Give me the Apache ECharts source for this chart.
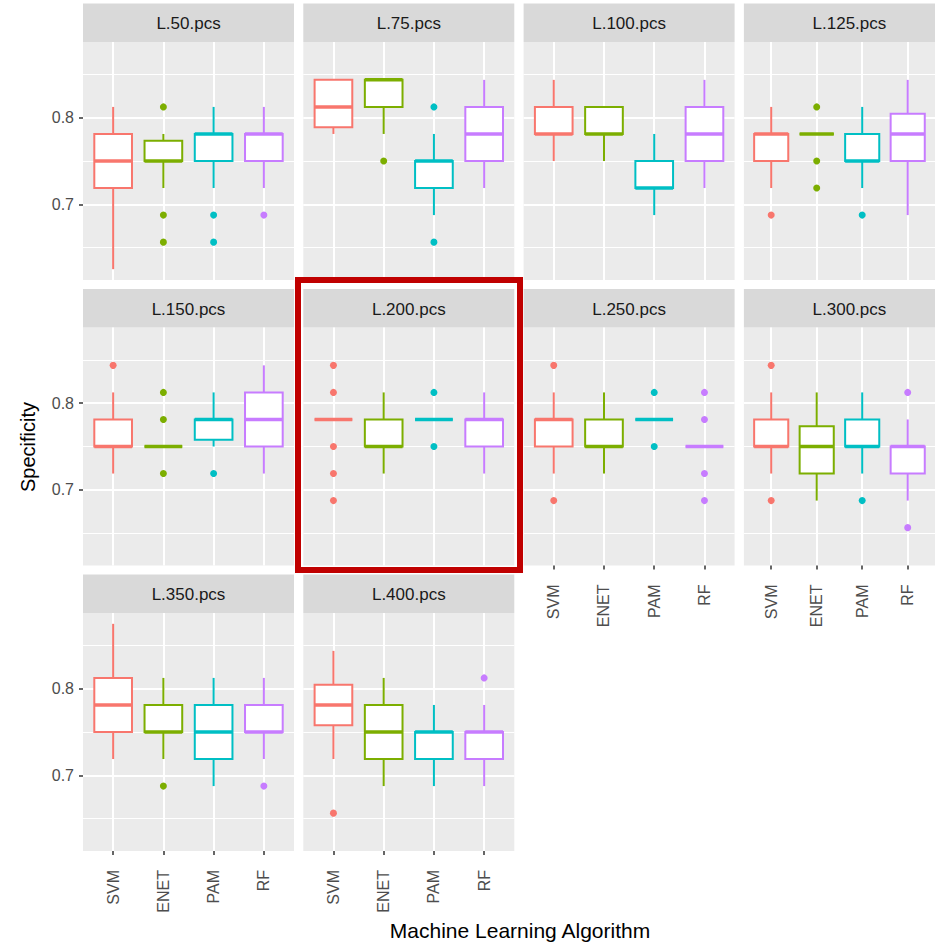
<!DOCTYPE html>
<html>
<head>
<meta charset="utf-8">
<title>Specificity by algorithm</title>
<script src="https://cdn.jsdelivr.net/npm/echarts@6/dist/echarts.min.js"></script>
<style>
  html, body { margin: 0; padding: 0; background: #fff; }
  #chart { width: 935px; height: 947px; }
</style>
</head>
<body>
<div id="chart"></div>
<script>
const algos = ["SVM", "ENET", "PAM", "RF"];
const panelNames = ["L.50.pcs", "L.75.pcs", "L.100.pcs", "L.125.pcs", "L.150.pcs",
  "L.200.pcs", "L.250.pcs", "L.300.pcs", "L.350.pcs", "L.400.pcs"];
const yMajor = [0.7, 0.8];
const yMinor = [0.65, 0.75, 0.85];
const xTicks = [1, 2, 3, 4];

// each row: [lower whisker, Q1, median, Q3, upper whisker] for SVM, ENET, PAM, RF
const box50 = [[0.625, 0.71875, 0.75, 0.78125, 0.8125], [0.71875, 0.75, 0.75, 0.7734, 0.78125],
  [0.71875, 0.75, 0.78125, 0.78125, 0.8125], [0.71875, 0.75, 0.78125, 0.78125, 0.8125]];
const box75 = [[0.78125, 0.7891, 0.8125, 0.84375, 0.84375], [0.78125, 0.8125, 0.84375, 0.84375, 0.84375],
  [0.6875, 0.71875, 0.75, 0.75, 0.78125], [0.71875, 0.75, 0.78125, 0.8125, 0.84375]];
const box100 = [[0.75, 0.78125, 0.78125, 0.8125, 0.84375], [0.75, 0.78125, 0.78125, 0.8125, 0.8125],
  [0.6875, 0.71875, 0.71875, 0.75, 0.78125], [0.71875, 0.75, 0.78125, 0.8125, 0.84375]];
const box125 = [[0.71875, 0.75, 0.78125, 0.78125, 0.8125], [0.78125, 0.78125, 0.78125, 0.78125, 0.78125],
  [0.71875, 0.75, 0.75, 0.78125, 0.8125], [0.6875, 0.75, 0.78125, 0.8047, 0.84375]];
const box150 = [[0.71875, 0.75, 0.75, 0.78125, 0.8125], [0.75, 0.75, 0.75, 0.75, 0.75],
  [0.75, 0.7578, 0.78125, 0.78125, 0.8125], [0.71875, 0.75, 0.78125, 0.8125, 0.84375]];
const box200 = [[0.78125, 0.78125, 0.78125, 0.78125, 0.78125], [0.71875, 0.75, 0.75, 0.78125, 0.8125],
  [0.78125, 0.78125, 0.78125, 0.78125, 0.78125], [0.71875, 0.75, 0.78125, 0.78125, 0.8125]];
const box250 = [[0.71875, 0.75, 0.78125, 0.78125, 0.8125], [0.71875, 0.75, 0.75, 0.78125, 0.8125],
  [0.78125, 0.78125, 0.78125, 0.78125, 0.78125], [0.75, 0.75, 0.75, 0.75, 0.75]];
const box300 = [[0.71875, 0.75, 0.75, 0.78125, 0.8125], [0.6875, 0.71875, 0.75, 0.7734, 0.8125],
  [0.71875, 0.75, 0.75, 0.78125, 0.8125], [0.6875, 0.71875, 0.75, 0.75, 0.78125]];
const box350 = [[0.71875, 0.75, 0.78125, 0.8125, 0.875], [0.71875, 0.75, 0.75, 0.78125, 0.8125],
  [0.6875, 0.71875, 0.75, 0.78125, 0.8125], [0.71875, 0.75, 0.75, 0.78125, 0.8125]];
const box400 = [[0.71875, 0.7578, 0.78125, 0.8047, 0.84375], [0.6875, 0.71875, 0.75, 0.78125, 0.8125],
  [0.6875, 0.71875, 0.75, 0.75, 0.78125], [0.6875, 0.71875, 0.75, 0.75, 0.78125]];

// outliers: [algorithm number (1..4), specificity]
const out50 = [[2, 0.8125], [2, 0.6875], [2, 0.65625], [3, 0.6875], [3, 0.65625], [4, 0.6875]];
const out75 = [[2, 0.75], [3, 0.8125], [3, 0.65625]];
const out100 = [];
const out125 = [[1, 0.6875], [2, 0.8125], [2, 0.75], [2, 0.71875], [3, 0.6875]];
const out150 = [[1, 0.84375], [2, 0.8125], [2, 0.78125], [2, 0.71875], [3, 0.71875]];
const out200 = [[1, 0.84375], [1, 0.8125], [1, 0.75], [1, 0.71875], [1, 0.6875], [3, 0.8125], [3, 0.75]];
const out250 = [[1, 0.84375], [1, 0.6875], [3, 0.8125], [3, 0.75],
  [4, 0.8125], [4, 0.78125], [4, 0.71875], [4, 0.6875]];
const out300 = [[1, 0.84375], [1, 0.6875], [3, 0.6875], [4, 0.8125], [4, 0.65625]];
const out350 = [[2, 0.6875], [4, 0.6875]];
const out400 = [[1, 0.65625], [4, 0.8125]];

const boxes = [box50, box75, box100, box125, box150, box200, box250, box300, box350, box400];
const outliers = [out50, out75, out100, out125, out150, out200, out250, out300, out350, out400];

const colors = ["#F8766D", "#7CAE00", "#00BFC4", "#C77CFF"];
const font = "Liberation Sans, Arial, sans-serif";
const boxWidth = 0.75;

let chart = echarts.init(document.getElementById("chart"), null, { renderer: "svg" });

function renderBox(params, api) {
  let x = api.value(0);
  let lo = api.coord([x, api.value(1)]);
  let q1 = api.coord([x, api.value(2)]);
  let md = api.coord([x, api.value(3)]);
  let q3 = api.coord([x, api.value(4)]);
  let hi = api.coord([x, api.value(5)]);
  let half = api.size([boxWidth, 0])[0] / 2;
  let c = colors[x - 1];
  return {
    type: "group",
    children: [
      { type: "line", shape: { x1: hi[0], y1: hi[1], x2: q3[0], y2: q3[1] }, style: { stroke: c, lineWidth: 2 } },
      { type: "line", shape: { x1: lo[0], y1: lo[1], x2: q1[0], y2: q1[1] }, style: { stroke: c, lineWidth: 2 } },
      {
        type: "rect",
        shape: { x: q3[0] - half, y: q3[1], width: half * 2, height: q1[1] - q3[1] },
        style: { fill: "#fff", stroke: c, lineWidth: 2 }
      },
      {
        type: "line",
        shape: { x1: md[0] - half, y1: md[1], x2: md[0] + half, y2: md[1] },
        style: { stroke: c, lineWidth: 3.5 }
      }
    ]
  };
}

let grids = [], xAxes = [], yAxes = [], series = [], graphics = [];
const colStep = 220.3, panelW = 211, rowStep = 285.5, panelH = 238, stripH = 38.5;

panelNames.forEach(function(name, i) {
  let row = Math.floor(i / 4), col = i % 4;
  let left = 83 + col * colStep;
  let top = 42 + row * rowStep;
  let showX = i >= 6;
  let showY = col === 0;

  grids.push({ left: left, top: top, width: panelW, height: panelH, show: true,
    backgroundColor: "#EBEBEB", borderWidth: 0, containLabel: false });

  graphics.push({
    type: "rect", left: left, top: top - stripH, silent: true,
    shape: { width: panelW, height: stripH }, style: { fill: "#D9D9D9" }
  });
  graphics.push({
    type: "text", x: left + panelW / 2, y: top - stripH / 2 + 1, silent: true,
    style: { text: name, fill: "#1A1A1A", font: "17px " + font, textAlign: "center", textVerticalAlign: "middle" }
  });

  xAxes.push({
    type: "value", gridIndex: i, min: 0.4, max: 4.6,
    axisLine: { show: false },
    axisTick: { show: showX, customValues: xTicks, length: 4, lineStyle: { color: "#333", width: 1.5 } },
    axisLabel: {
      show: showX, customValues: xTicks, rotate: 90, margin: 19,
      color: "#4D4D4D", fontSize: 16, fontFamily: font,
      formatter: function(v) { return algos[Math.round(v) - 1]; }
    },
    splitLine: { show: true, lineStyle: { color: "#fff", width: 2 } }
  });

  // major lines, ticks and labels
  yAxes.push({
    type: "value", gridIndex: i, min: 0.6125, max: 0.8875,
    axisLine: { show: false },
    axisTick: { show: showY, customValues: yMajor, length: 4, lineStyle: { color: "#333", width: 1.5 } },
    axisLabel: { show: showY, customValues: yMajor, margin: 9, color: "#4D4D4D", fontSize: 16, fontFamily: font },
    splitLine: { show: true, lineStyle: { color: "#fff", width: 2 } }
  });
  // minor lines
  yAxes.push({
    type: "value", gridIndex: i, min: 0.6125, max: 0.8875,
    axisLine: { show: false },
    axisTick: { show: false, customValues: yMinor },
    axisLabel: { show: false, customValues: yMinor },
    splitLine: { show: true, lineStyle: { color: "#fff", width: 1 } }
  });

  series.push({
    type: "custom", xAxisIndex: i, yAxisIndex: 2 * i,
    renderItem: renderBox,
    encode: { x: 0, y: [1, 2, 3, 4, 5] },
    data: boxes[i].map(function(b, a) { return [a + 1].concat(b); }),
    z: 3
  });
  series.push({
    type: "scatter", xAxisIndex: i, yAxisIndex: 2 * i,
    symbolSize: 7,
    data: outliers[i].map(function(p) {
      return { value: p, itemStyle: { color: colors[p[0] - 1], opacity: 1 } };
    }),
    z: 4
  });
});

graphics.push({
  type: "text", x: 28, y: 447, rotation: Math.PI / 2, silent: true,
  style: { text: "Specificity", fill: "#000", font: "20px " + font, textAlign: "center", textVerticalAlign: "middle" }
});
graphics.push({
  type: "text", x: 520, y: 930, silent: true,
  style: { text: "Machine Learning Algorithm", fill: "#000", font: "21px " + font, textAlign: "center", textVerticalAlign: "middle" }
});
// highlight box around L.200.pcs
graphics.push({
  type: "rect", silent: true, z: 100,
  shape: { x: 298, y: 280, width: 222, height: 290 },
  style: { fill: "none", stroke: "#C00000", lineWidth: 6 }
});

let option = {
  animation: false,
  backgroundColor: "#fff",
  grid: grids,
  xAxis: xAxes,
  yAxis: yAxes,
  series: series,
  graphic: graphics
};
chart.setOption(option);
</script>
</body>
</html>
